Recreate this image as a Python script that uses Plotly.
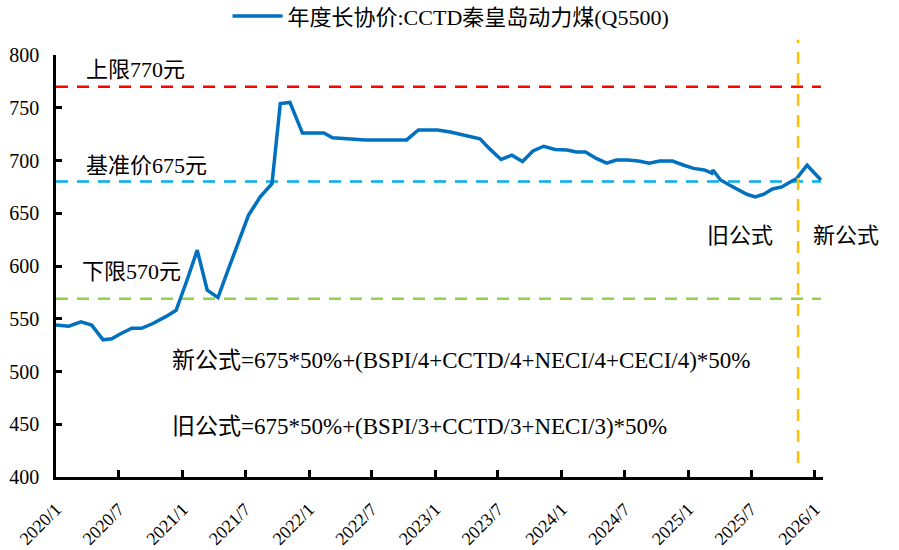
import plotly.graph_objects as go

# ---- data ----
dates = [
    "2020-01-01", "2020-02-07", "2020-03-13", "2020-04-13", "2020-05-16", "2020-06-10",
    "2020-07-07", "2020-08-07", "2020-09-04", "2020-10-07", "2020-11-13", "2020-12-13",
    "2021-01-13", "2021-02-12", "2021-03-13", "2021-04-13", "2021-05-13", "2021-06-13",
    "2021-07-10", "2021-08-13", "2021-09-16", "2021-10-10", "2021-11-07", "2021-12-13",
    "2022-01-13", "2022-02-13", "2022-03-10", "2022-04-13", "2022-05-19", "2022-06-13",
    "2022-07-13", "2022-08-13", "2022-09-13", "2022-10-10", "2022-11-13", "2022-12-10",
    "2023-01-07", "2023-02-13", "2023-03-13", "2023-04-16", "2023-05-10", "2023-06-07",
    "2023-07-10", "2023-08-10", "2023-09-10", "2023-10-10", "2023-11-10", "2023-12-13",
    "2024-01-16", "2024-02-13", "2024-03-10", "2024-04-10", "2024-05-10", "2024-06-07",
    "2024-07-10", "2024-08-10", "2024-09-10", "2024-10-10", "2024-11-16", "2024-12-19",
    "2025-01-16", "2025-02-16", "2025-03-10", "2025-03-13", "2025-04-04", "2025-05-01",
    "2025-05-25", "2025-06-19", "2025-07-13", "2025-08-07", "2025-09-01", "2025-09-28",
    "2025-10-16", "2025-11-10", "2025-12-10", "2026-01-19",
]
prices = [
    544, 543, 547, 544, 530, 531,
    536, 541, 541, 545.5, 552, 558,
    586, 615, 577, 570, 597, 624,
    648, 665.5, 678, 754, 755, 726,
    726, 726, 721.5, 720.5, 719.5, 719.5,
    719.5, 719.5, 719.5, 719.5, 729, 729,
    729, 727, 725, 723, 720.5, 711,
    701, 705, 699, 709, 713.5, 710.5,
    710, 708, 708, 702, 697.5, 700.5,
    700.5, 699.5, 697.5, 699.5, 699.5, 695.5,
    692.5, 691, 688, 691, 681.5, 676.5,
    672, 668, 665.5, 668, 673, 675,
    678.5, 683, 695.5, 681.5,
]
series_name = "年度长协价:CCTD秦皇岛动力煤(Q5500)"

ref_span = ["2020-01-01", "2026-01-19"]
upper_limit = [770, 770]
base_price = [680, 680]
lower_limit = [569, 569]
switch_date = "2025-11-14"

y_ticks = [400, 450, 500, 550, 600, 650, 700, 750, 800]
x_tickvals = ["2020-01-01", "2020-07-01", "2021-01-01", "2021-07-01", "2022-01-01",
              "2022-07-01", "2023-01-01", "2023-07-01", "2024-01-01", "2024-07-01",
              "2025-01-01", "2025-07-01", "2026-01-01"]
x_ticktext = ["2020/1", "2020/7", "2021/1", "2021/7", "2022/1", "2022/7", "2023/1",
              "2023/7", "2024/1", "2024/7", "2025/1", "2025/7", "2026/1"]

FONT = "Liberation Serif, Times New Roman, Noto Sans CJK SC, serif"

fig = go.Figure()
fig.add_trace(go.Scatter(x=ref_span, y=upper_limit, mode="lines", showlegend=False,
                         line=dict(color="#FF0000", width=2.5, dash="12px,9px"), hoverinfo="skip"))
fig.add_trace(go.Scatter(x=ref_span, y=base_price, mode="lines", showlegend=False,
                         line=dict(color="#00B0F0", width=2.5, dash="12px,9px"), hoverinfo="skip"))
fig.add_trace(go.Scatter(x=ref_span, y=lower_limit, mode="lines", showlegend=False,
                         line=dict(color="#92D050", width=2.5, dash="12px,9px"), hoverinfo="skip"))
fig.add_trace(go.Scatter(x=dates, y=prices, mode="lines", name=series_name,
                         line=dict(color="#0070C0", width=3.5)))

fig.add_shape(type="line", xref="x", yref="paper", x0=switch_date, x1=switch_date,
              y0=0.033, y1=1.036, line=dict(color="#FFC000", width=2.5, dash="12px,9px"))

ann = dict(showarrow=False, font=dict(family=FONT, size=22, color="#000000"), xanchor="left")
fig.add_annotation(text="上限770元", xref="paper", yref="y", x=0.036, y=786.5, **ann)
fig.add_annotation(text="基准价675元", xref="paper", yref="y", x=0.036, y=695.5, **ann)
fig.add_annotation(text="下限570元", xref="paper", yref="y", x=0.031, y=594.5, **ann)
fig.add_annotation(text="新公式=675*50%+(BSPI/4+CCTD/4+NECI/4+CECI/4)*50%", xref="paper", yref="y",
                   x=0.148, y=510.5, font=dict(family=FONT, size=23, color="#000000"),
                   showarrow=False, xanchor="left")
fig.add_annotation(text="旧公式=675*50%+(BSPI/3+CCTD/3+NECI/3)*50%", xref="paper", yref="y",
                   x=0.148, y=447.5, font=dict(family=FONT, size=23, color="#000000"),
                   showarrow=False, xanchor="left")
fig.add_annotation(text="旧公式", xref="paper", yref="y", x=0.846, y=628.5, **ann)
fig.add_annotation(text="新公式", xref="paper", yref="y", x=0.984, y=628.5, **ann)

fig.update_layout(
    width=899, height=550,
    margin=dict(l=56, r=76, t=55, b=73, autoexpand=False),
    paper_bgcolor="white", plot_bgcolor="white",
    font=dict(family=FONT, size=18, color="#000000"),
    showlegend=True,
    legend=dict(orientation="h", x=0.515, xanchor="center", y=1.092, yanchor="middle",
                font=dict(family=FONT, size=22), bgcolor="rgba(0,0,0,0)", itemwidth=50),
    xaxis=dict(type="date", range=["2020-01-01", "2026-01-25"], tickvals=x_tickvals,
               ticktext=x_ticktext, tickangle=-45, showgrid=False, zeroline=False,
               showline=True, linecolor="#000000", linewidth=2.5, automargin=False,
               ticks="inside", ticklen=7, tickwidth=2.5, tickcolor="#000000",
               tickfont=dict(family=FONT, size=18), ticklabelstandoff=12),
    yaxis=dict(range=[400, 800], tickvals=y_ticks, showgrid=False, zeroline=False,
               showline=True, linecolor="#000000", linewidth=2.5, automargin=False,
               ticks="inside", ticklen=6, tickwidth=2.5, tickcolor="#000000",
               tickfont=dict(family=FONT, size=20), ticklabelstandoff=10),
)

fig.write_html("out.html", config={"displayModeBar": False},
               post_script="document.body.style.margin='0';")
